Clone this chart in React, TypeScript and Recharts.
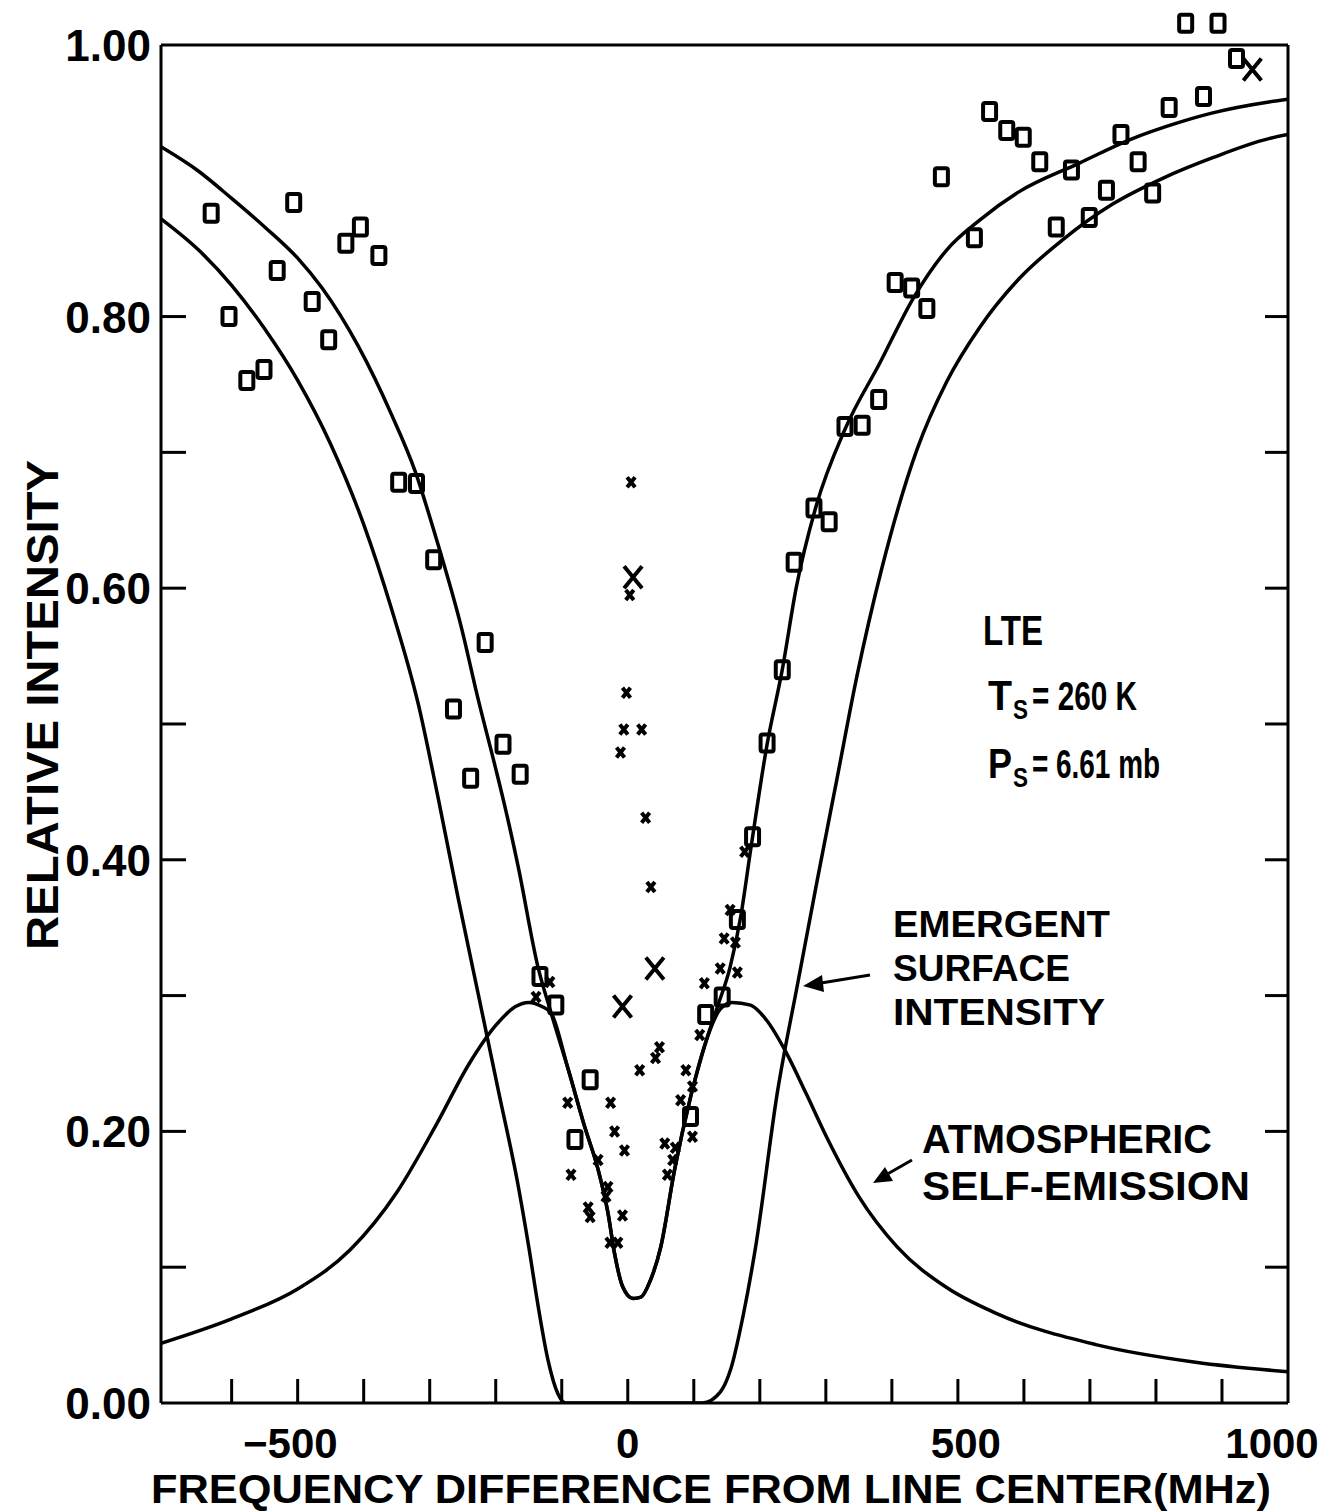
import React from "react";
import { ComposedChart, Line, Scatter, XAxis, YAxis, ReferenceLine } from "recharts";

// frequency difference (MHz) vs relative intensity
const totalCurve = [
  { f: -707, v: 0.925 }, { f: -650, v: 0.907 }, { f: -600, v: 0.887 }, { f: -550, v: 0.866 },
  { f: -500, v: 0.843 }, { f: -463, v: 0.821 }, { f: -408, v: 0.778 }, { f: -358, v: 0.728 },
  { f: -322, v: 0.686 }, { f: -291, v: 0.638 }, { f: -252, v: 0.571 }, { f: -226, v: 0.517 },
  { f: -201, v: 0.469 }, { f: -186, v: 0.439 }, { f: -166, v: 0.395 }, { f: -136, v: 0.321 },
  { f: -116, v: 0.287 }, { f: -91, v: 0.247 }, { f: -65, v: 0.203 }, { f: -45, v: 0.172 },
  { f: -30, v: 0.14 }, { f: -20, v: 0.11 }, { f: -8, v: 0.086 }, { f: 8, v: 0.077 },
  { f: 20, v: 0.078 }, { f: 34, v: 0.09 }, { f: 50, v: 0.115 }, { f: 71, v: 0.172 },
  { f: 95, v: 0.225 }, { f: 121, v: 0.27 }, { f: 136, v: 0.292 }, { f: 155, v: 0.321 },
  { f: 171, v: 0.358 }, { f: 186, v: 0.407 }, { f: 211, v: 0.485 }, { f: 234, v: 0.54 },
  { f: 255, v: 0.6 }, { f: 285, v: 0.66 }, { f: 329, v: 0.717 }, { f: 382, v: 0.766 },
  { f: 433, v: 0.814 }, { f: 483, v: 0.849 }, { f: 533, v: 0.871 }, { f: 593, v: 0.892 },
  { f: 684, v: 0.913 }, { f: 759, v: 0.93 }, { f: 835, v: 0.943 }, { f: 886, v: 0.95 },
  { f: 971, v: 0.958 }, { f: 1000, v: 0.96 },
];

const surfaceCurve = [
  { f: -707, v: 0.872 }, { f: -650, v: 0.849 }, { f: -600, v: 0.823 }, { f: -550, v: 0.791 },
  { f: -500, v: 0.753 }, { f: -450, v: 0.706 }, { f: -400, v: 0.647 }, { f: -358, v: 0.585 },
  { f: -317, v: 0.514 }, { f: -287, v: 0.445 }, { f: -257, v: 0.372 }, { f: -226, v: 0.3 },
  { f: -196, v: 0.23 }, { f: -166, v: 0.16 }, { f: -150, v: 0.115 }, { f: -136, v: 0.072 },
  { f: -121, v: 0.032 }, { f: -106, v: 0.007 }, { f: -94, v: 0 }, { f: 113, v: 0 },
  { f: 140, v: 0.008 }, { f: 156, v: 0.025 }, { f: 175, v: 0.065 }, { f: 193, v: 0.113 },
  { f: 227, v: 0.23 }, { f: 257, v: 0.308 }, { f: 287, v: 0.385 }, { f: 317, v: 0.46 },
  { f: 347, v: 0.535 }, { f: 385, v: 0.615 }, { f: 438, v: 0.702 }, { f: 483, v: 0.752 },
  { f: 533, v: 0.792 }, { f: 593, v: 0.828 }, { f: 660, v: 0.857 }, { f: 735, v: 0.883 },
  { f: 811, v: 0.902 }, { f: 886, v: 0.917 }, { f: 971, v: 0.931 }, { f: 1000, v: 0.934 },
];

const emissionCurve = [
  { f: -707, v: 0.044 }, { f: -600, v: 0.062 }, { f: -500, v: 0.084 }, { f: -420, v: 0.113 },
  { f: -350, v: 0.155 }, { f: -290, v: 0.205 }, { f: -240, v: 0.25 }, { f: -200, v: 0.278 },
  { f: -170, v: 0.292 }, { f: -150, v: 0.295 }, { f: -130, v: 0.292 }, { f: -116, v: 0.287 },
  { f: -91, v: 0.247 }, { f: -65, v: 0.203 }, { f: -45, v: 0.172 }, { f: -30, v: 0.14 },
  { f: -20, v: 0.11 }, { f: -8, v: 0.086 }, { f: 8, v: 0.077 }, { f: 20, v: 0.078 },
  { f: 34, v: 0.09 }, { f: 50, v: 0.115 }, { f: 71, v: 0.172 }, { f: 95, v: 0.225 },
  { f: 121, v: 0.27 }, { f: 140, v: 0.29 }, { f: 158, v: 0.295 }, { f: 186, v: 0.293 },
  { f: 210, v: 0.282 }, { f: 240, v: 0.258 }, { f: 270, v: 0.228 }, { f: 300, v: 0.197 },
  { f: 350, v: 0.152 }, { f: 408, v: 0.115 }, { f: 483, v: 0.085 }, { f: 558, v: 0.066 },
  { f: 709, v: 0.043 }, { f: 860, v: 0.03 }, { f: 1000, v: 0.023 },
];

const squarePoints = [
  { f: -631, v: 0.876 }, { f: -506, v: 0.884 }, { f: -531, v: 0.834 }, { f: -427, v: 0.854 },
  { f: -405, v: 0.866 }, { f: -377, v: 0.845 }, { f: -478, v: 0.811 }, { f: -604, v: 0.8 },
  { f: -453, v: 0.783 }, { f: -577, v: 0.753 }, { f: -551, v: 0.761 }, { f: -347, v: 0.678 },
  { f: -320, v: 0.677 }, { f: -294, v: 0.621 }, { f: -216, v: 0.56 }, { f: -264, v: 0.511 },
  { f: -189, v: 0.485 }, { f: -238, v: 0.46 }, { f: -163, v: 0.463 }, { f: -133, v: 0.314 },
  { f: -109, v: 0.293 }, { f: -57, v: 0.238 }, { f: -80, v: 0.194 }, { f: 95, v: 0.211 },
  { f: 118, v: 0.286 }, { f: 143, v: 0.299 }, { f: 166, v: 0.356 }, { f: 189, v: 0.417 },
  { f: 211, v: 0.486 }, { f: 234, v: 0.54 }, { f: 252, v: 0.619 }, { f: 282, v: 0.659 },
  { f: 305, v: 0.649 }, { f: 329, v: 0.719 }, { f: 355, v: 0.72 }, { f: 380, v: 0.739 },
  { f: 405, v: 0.825 }, { f: 430, v: 0.821 }, { f: 453, v: 0.806 }, { f: 475, v: 0.903 },
  { f: 525, v: 0.858 }, { f: 548, v: 0.951 }, { f: 574, v: 0.937 }, { f: 599, v: 0.932 },
  { f: 624, v: 0.914 }, { f: 649, v: 0.866 }, { f: 672, v: 0.908 }, { f: 699, v: 0.873 },
  { f: 725, v: 0.893 }, { f: 747, v: 0.934 }, { f: 773, v: 0.914 }, { f: 795, v: 0.891 },
  { f: 820, v: 0.954 }, { f: 872, v: 0.962 }, { f: 845, v: 1.016 }, { f: 894, v: 1.016 },
  { f: 922, v: 0.99 },
];

const bigCrossPoints = [
  { f: 8, v: 0.608 }, { f: -8, v: 0.292 }, { f: 41, v: 0.32 }, { f: 946, v: 0.982 },
];

const smallCrossPoints = [
  { f: 5, v: 0.678 }, { f: 3, v: 0.595 }, { f: -2, v: 0.523 }, { f: -6, v: 0.496 },
  { f: 21, v: 0.496 }, { f: -11, v: 0.479 }, { f: 27, v: 0.431 }, { f: 35, v: 0.38 },
  { f: -118, v: 0.31 }, { f: -139, v: 0.299 }, { f: 48, v: 0.262 }, { f: 42, v: 0.254 },
  { f: 18, v: 0.245 }, { f: 88, v: 0.245 }, { f: 98, v: 0.233 }, { f: 80, v: 0.223 },
  { f: -91, v: 0.221 }, { f: -26, v: 0.221 }, { f: -20, v: 0.2 }, { f: -5, v: 0.186 },
  { f: 98, v: 0.196 }, { f: 56, v: 0.191 }, { f: 72, v: 0.188 }, { f: -45, v: 0.179 },
  { f: 68, v: 0.179 }, { f: -86, v: 0.168 }, { f: 60, v: 0.168 }, { f: -30, v: 0.159 },
  { f: -60, v: 0.144 }, { f: -33, v: 0.152 }, { f: -8, v: 0.138 }, { f: -57, v: 0.137 },
  { f: -27, v: 0.118 }, { f: -15, v: 0.118 }, { f: 155, v: 0.363 }, { f: 163, v: 0.339 },
  { f: 146, v: 0.342 }, { f: 140, v: 0.32 }, { f: 166, v: 0.317 }, { f: 116, v: 0.309 },
  { f: 109, v: 0.271 }, { f: 177, v: 0.406 },
];

const xTicks = [-600, -500, -400, -300, -200, -100, 0, 100, 200, 300, 400, 500, 600, 700, 800, 900, 1000];
const xTickLabels: Record<number, string> = { [-500]: "−500", 0: "0", 500: "500", 1000: "1000" };
const yTicks = [0, 0.1, 0.2, 0.3, 0.4, 0.5, 0.6, 0.7, 0.8, 1.0];
const yTickLabels: Record<number, string> = { 0: "0.00", 0.2: "0.20", 0.4: "0.40", 0.6: "0.60", 0.8: "0.80", 1: "1.00" };

const FONT = "'Liberation Sans', Arial, sans-serif";
const INK = "#000";

function XTick(props: any) {
  const { x, y, payload } = props;
  const label = xTickLabels[payload.value];
  let tx = x;
  let anchor: "middle" | "end" = "middle";
  if (payload.value === -500) { tx = x + 40; anchor = "end"; }
  if (payload.value === 500) tx = x + 8;
  if (payload.value === 1000) tx = x - 16;
  return (
    <g>
      {payload.value !== 1000 && <line x1={x} x2={x} y1={y} y2={y - 24} stroke={INK} strokeWidth={3} />}
      {label && (
        <text x={tx} y={y + 55} textAnchor={anchor} fontFamily={FONT} fontWeight="bold" fontSize={42} fill={INK}>
          {label}
        </text>
      )}
    </g>
  );
}

function YTickLeft(props: any) {
  const { x, y, payload } = props;
  const label = yTickLabels[Math.round(payload.value * 10) / 10];
  const inner = payload.value > 0 && payload.value < 1;
  return (
    <g>
      {inner && <line x1={x} x2={x + 25} y1={y} y2={y} stroke={INK} strokeWidth={3} />}
      {label && (
        <text x={x - 10} y={y + 16} textAnchor="end" fontFamily={FONT} fontWeight="bold" fontSize={44} fill={INK}>
          {label}
        </text>
      )}
    </g>
  );
}

function YTickRight(props: any) {
  const { x, y, payload } = props;
  if (!(payload.value > 0 && payload.value < 1)) return <g />;
  return <line x1={x} x2={x - 23} y1={y} y2={y} stroke={INK} strokeWidth={3} />;
}

function SquareMark(props: any) {
  const { cx, cy } = props;
  return <rect x={cx - 6.5} y={cy - 8.5} width={13} height={17} rx={2} fill="none" stroke={INK} strokeWidth={4} />;
}

function BigCross(props: any) {
  const { cx, cy } = props;
  return (
    <path d={`M${cx - 9},${cy - 11}L${cx + 9},${cy + 11}M${cx + 9},${cy - 11}L${cx - 9},${cy + 11}`}
      stroke={INK} strokeWidth={4} fill="none" />
  );
}

function SmallCross(props: any) {
  const { cx, cy } = props;
  return (
    <path d={`M${cx - 4},${cy - 5}L${cx + 4},${cy + 5}M${cx + 4},${cy - 5}L${cx - 4},${cy + 5}`}
      stroke={INK} strokeWidth={4} fill="none" />
  );
}

function Annotations() {
  const t = { fontFamily: FONT, fontWeight: "bold" as const, fill: INK };
  const squeeze = { lengthAdjust: "spacingAndGlyphs" as const };
  return (
    <svg width={1335} height={1511} style={{ position: "absolute", left: 0, top: 0, pointerEvents: "none" }}>
      <text x={42} y={705} transform="rotate(-90 42 705)" textAnchor="middle" dominantBaseline="central"
        fontSize={44} textLength={490} {...squeeze} {...t}>RELATIVE INTENSITY</text>
      <text x={151} y={1503} fontSize={40} textLength={1120} {...squeeze} {...t}>
        FREQUENCY DIFFERENCE FROM LINE CENTER(MHz)
      </text>
      <text x={983} y={645} fontSize={42} textLength={60} {...squeeze} {...t}>LTE</text>

      <text x={988} y={710} fontSize={42} textLength={24} {...squeeze} {...t}>T</text>
      <text x={1013} y={719} fontSize={28} textLength={15} {...squeeze} {...t}>S</text>
      <text x={1032} y={710} fontSize={40} textLength={105} {...squeeze} {...t}>= 260 K</text>

      <text x={988} y={778} fontSize={42} textLength={24} {...squeeze} {...t}>P</text>
      <text x={1013} y={787} fontSize={28} textLength={15} {...squeeze} {...t}>S</text>
      <text x={1032} y={778} fontSize={40} textLength={128} {...squeeze} {...t}>= 6.61 mb</text>

      <text x={893} y={937} fontSize={37} textLength={217} {...squeeze} {...t}>EMERGENT</text>
      <text x={893} y={981} fontSize={37} textLength={177} {...squeeze} {...t}>SURFACE</text>
      <text x={893} y={1025} fontSize={37} textLength={212} {...squeeze} {...t}>INTENSITY</text>
      <text x={922} y={1153} fontSize={40} textLength={290} {...squeeze} {...t}>ATMOSPHERIC</text>
      <text x={922} y={1200} fontSize={40} textLength={328} {...squeeze} {...t}>SELF-EMISSION</text>
      <line x1={870} y1={975} x2={815} y2={984} stroke={INK} strokeWidth={3} />
      <polygon points="803,986 822,975 824,992" fill={INK} />
      <line x1={912} y1={1160} x2={884} y2={1176} stroke={INK} strokeWidth={3} />
      <polygon points="873,1183 885,1167 893,1181" fill={INK} />
    </svg>
  );
}

export default function App() {
  return (
    <div style={{ position: "absolute", left: 0, top: 0, width: 1335, height: 1511, background: "#fff" }}>
      <ComposedChart width={1335} height={1511} margin={{ top: 11, right: 27, bottom: 78, left: 101 }}>
        <XAxis type="number" dataKey="f" domain={[-707, 1000]} allowDataOverflow ticks={xTicks}
          tick={<XTick />} tickLine={false} tickSize={0} tickMargin={0} height={30}
          axisLine={{ stroke: INK, strokeWidth: 3 }} interval={0} />
        <YAxis type="number" dataKey="v" domain={[0, 1.025]} allowDataOverflow ticks={yTicks}
          tick={<YTickLeft />} tickLine={false} tickSize={0} tickMargin={0} width={60}
          axisLine={false} interval={0} />
        <YAxis yAxisId="r" orientation="right" type="number" dataKey="v" domain={[0, 1.025]} allowDataOverflow
          ticks={yTicks} tick={<YTickRight />} tickLine={false} tickSize={0} tickMargin={0} width={20}
          axisLine={false} interval={0} />
        <ReferenceLine segment={[{ x: -707, y: 0 }, { x: -707, y: 1 }]} stroke={INK} strokeWidth={3} />
        <ReferenceLine segment={[{ x: 1000, y: 0 }, { x: 1000, y: 1 }]} stroke={INK} strokeWidth={3} />
        <ReferenceLine segment={[{ x: -707, y: 1 }, { x: 1000, y: 1 }]} stroke={INK} strokeWidth={3} />
        <Line data={totalCurve} dataKey="v" type="monotone" dot={false} stroke={INK} strokeWidth={3.5} isAnimationActive={false} />
        <Line data={surfaceCurve} dataKey="v" type="monotone" dot={false} stroke={INK} strokeWidth={3.5} isAnimationActive={false} />
        <Line data={emissionCurve} dataKey="v" type="monotone" dot={false} stroke={INK} strokeWidth={3.5} isAnimationActive={false} />
        <Scatter data={squarePoints} dataKey="v" shape={<SquareMark />} isAnimationActive={false} />
        <Scatter data={bigCrossPoints} dataKey="v" shape={<BigCross />} isAnimationActive={false} />
        <Scatter data={smallCrossPoints} dataKey="v" shape={<SmallCross />} isAnimationActive={false} />
      </ComposedChart>
      <Annotations />
    </div>
  );
}
